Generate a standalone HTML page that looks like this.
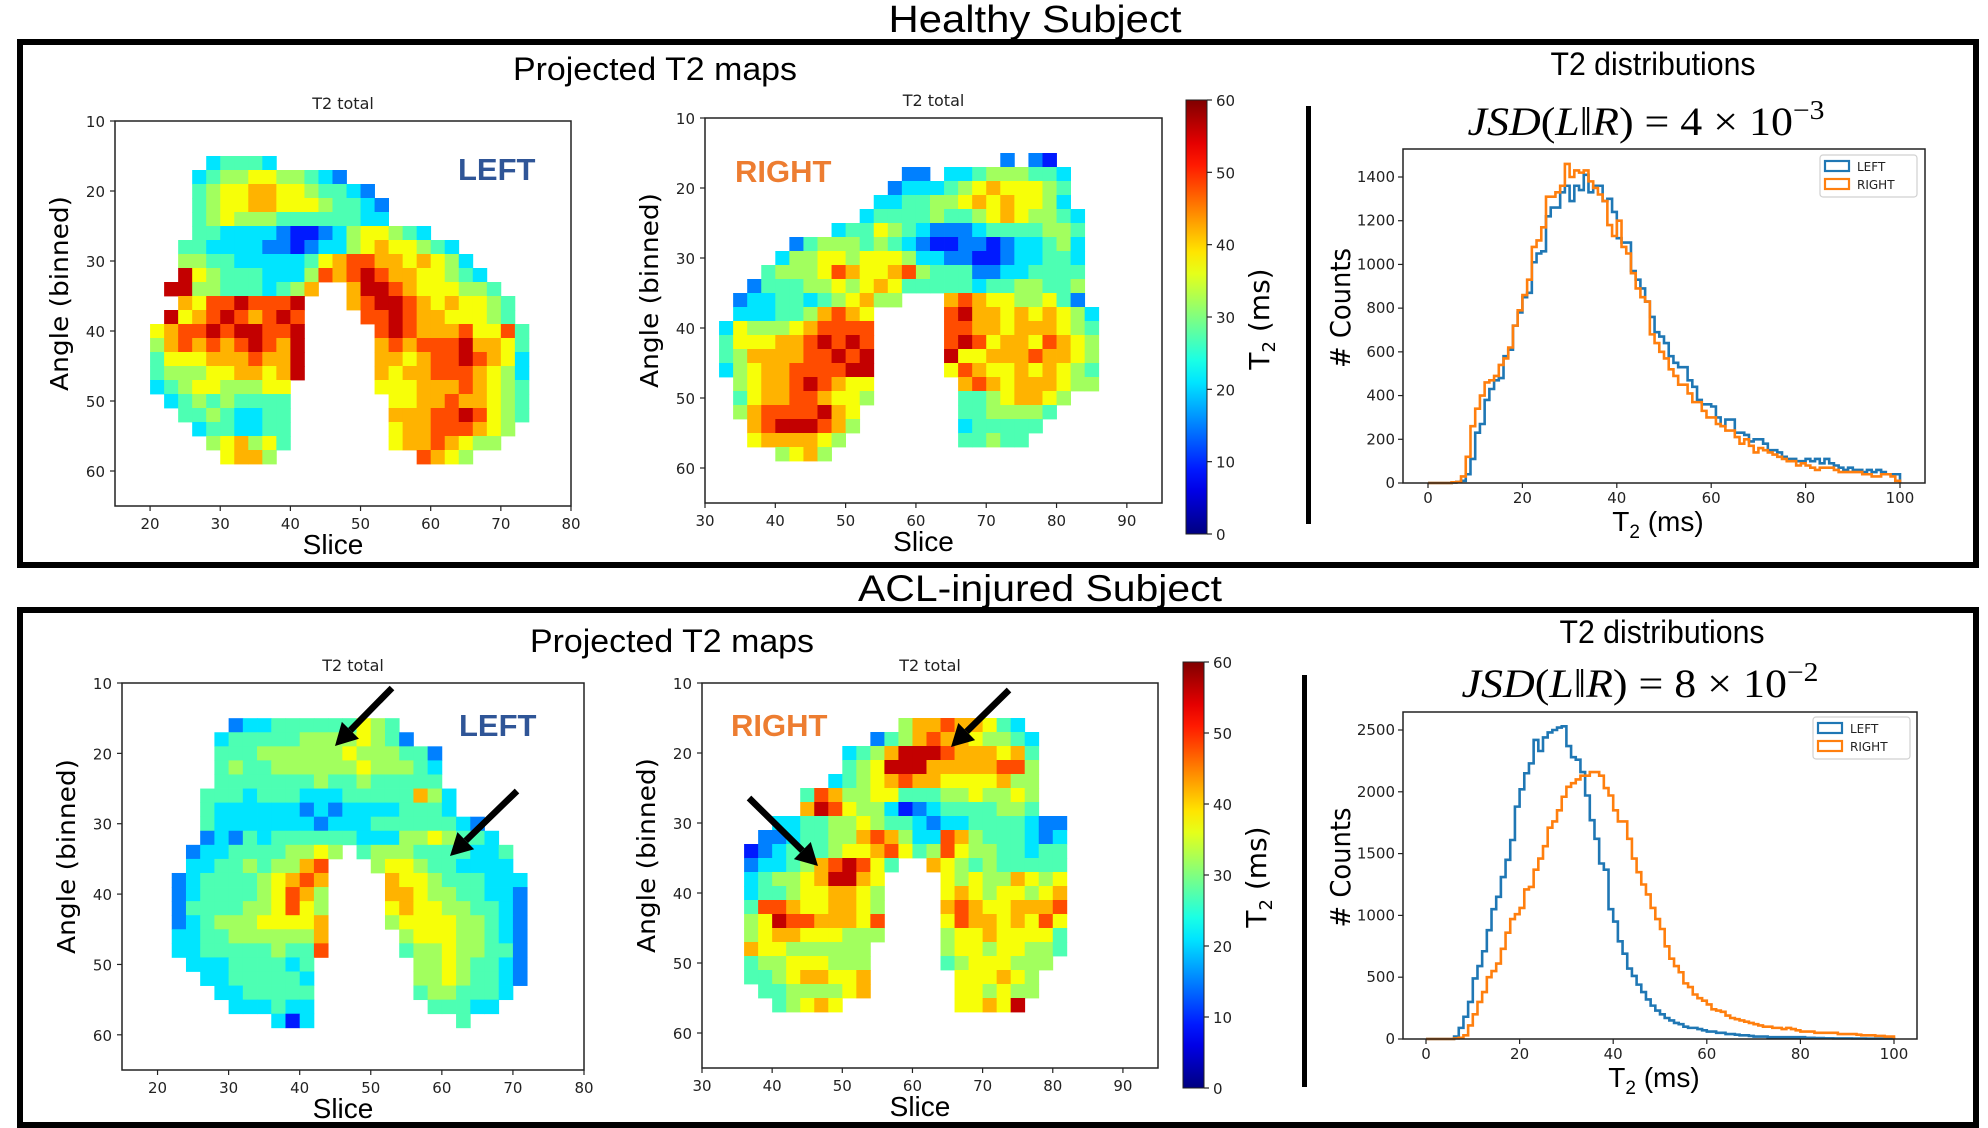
<!DOCTYPE html>
<html>
<head>
<meta charset="utf-8">
<style>
html,body{margin:0;padding:0;background:#fff;}
svg{display:block;}
.tk{font-family:"DejaVu Sans",sans-serif;font-size:15px;fill:#222;}
.cal{font-family:"Liberation Sans",sans-serif;fill:#000;}
</style>
</head>
<body>
<svg id="fig" xmlns="http://www.w3.org/2000/svg" width="1988" height="1128" viewBox="0 0 1988 1128">
<defs>
<linearGradient id="jetGrad" x1="0" y1="1" x2="0" y2="0"></linearGradient>
</defs>
<text class="cal" x="1035" y="32" font-size="38" text-anchor="middle" textLength="293" lengthAdjust="spacingAndGlyphs">Healthy Subject</text>
<rect x="20" y="42" width="1956" height="523" fill="none" stroke="#000" stroke-width="6"/>
<text class="cal" x="1040" y="601" font-size="37" text-anchor="middle" textLength="364" lengthAdjust="spacingAndGlyphs">ACL-injured Subject</text>
<rect x="20" y="610" width="1956" height="515" fill="none" stroke="#000" stroke-width="6"/>

<text class="cal" x="655" y="80" font-size="32" text-anchor="middle" textLength="284" lengthAdjust="spacingAndGlyphs">Projected T2 maps</text>
<text class="cal" x="1653" y="75" font-size="32" text-anchor="middle" textLength="205" lengthAdjust="spacingAndGlyphs">T2 distributions</text>
<text class="cal" x="672" y="652" font-size="32" text-anchor="middle" textLength="284" lengthAdjust="spacingAndGlyphs">Projected T2 maps</text>
<text class="cal" x="1662" y="643" font-size="32" text-anchor="middle" textLength="205" lengthAdjust="spacingAndGlyphs">T2 distributions</text>

<rect x="1306" y="106" width="5" height="418" fill="#000"/>
<rect x="1302" y="675" width="5" height="412" fill="#000"/>

<text x="1646" y="135" font-family="Liberation Serif, serif" font-size="40" text-anchor="middle" textLength="357" lengthAdjust="spacingAndGlyphs"><tspan font-style="italic">JSD</tspan>(<tspan font-style="italic">L</tspan>‖<tspan font-style="italic">R</tspan>) = 4 × 10<tspan dy="-16" font-size="27">−3</tspan></text>
<text x="1640" y="697" font-family="Liberation Serif, serif" font-size="40" text-anchor="middle" textLength="357" lengthAdjust="spacingAndGlyphs"><tspan font-style="italic">JSD</tspan>(<tspan font-style="italic">L</tspan>‖<tspan font-style="italic">R</tspan>) = 8 × 10<tspan dy="-16" font-size="27">−2</tspan></text>

<g id="layer"></g>
</svg>
<script>
// ---------- data ----------
const levelToT2 = [3, 9, 15, 21, 27, 32, 37, 42, 48, 56];
const rowAngles = [15,17,19,21,23,25,27,29,31,33,35,37,39,41,43,45,47,49,51,53,55,57];
const healthyLeftRows = [
"....34443...................",
"...34556655432..............",
"...4566776654432............",
"...45667766654432...........",
"...45655544444433...........",
"...44333321123566543........",
"..44333322123356766543......",
"..554433333467887767653.....",
"..9654443335878987766543....",
".99554443457..79987666554...",
"..768898889...789987676654..",
".9678987898....88987766654..",
"67889899889.....89877786684.",
"57878789879.....78788897764.",
"46667778779.....77678898763.",
"45556677679.....76778887653.",
"3456655566......66677787654.",
".345454444.......6677877654.",
"..44543344.......7778898654.",
"...3443344.......677888765..",
"....567564.......67787655...",
".....6775..........8765....."];
const healthyRightRows = [
"....................2.21....",
".............22.334555443...",
"............2333456766654...",
"...........33445567676653...",
"..........3444454456765543..",
"........344654322234444554..",
".....245554543211221233453..",
"....3556656665332211233443..",
"...45556876678544422334444..",
"..244455656764444434455445..",
".233443456755...7876655642..",
".3334457876.....89776767653.",
"36555678888.....88776777654.",
"46667789898.....89867768765.",
"45777788989.....96677787765.",
"35677888899.....68766767654.",
".5677898766......7876777655.",
".4677887665......44567765...",
".578888976.......4455554....",
"..78999875.......344444.....",
"..6777765........44544......",
"....5675...................."];
const aclLeftRows = [
".....233444444654...........",
"....34444455556542..........",
"....4445555556555442........",
"....4544555555655543........",
"....4444444544544444........",
"...444344433344444753.......",
"...433333323233334443.......",
"...43333333233344444432.....",
"...232434444443335565443....",
"..23344445565.45554444334...",
"..3344545578...5665443333...",
".23444456787....7665444333..",
".23444456875....7765544332..",
".24444556865....6766554432..",
".23455566667....5666655432..",
".33445555557.....566655432..",
".33444445448.....455655442..",
"..333444434.......55654432..",
"...33444443.......55654432..",
"....3344444.......4554443...",
".....333433........44433....",
"........313..........4......"];
const aclRightRows = [
".............577877643......",
"...........245787765543.....",
".........34579998777674.....",
".........45699977777885.....",
"........345678776666755.....",
"......48755664445565565.....",
"......79865531234444554.....",
"....334455654432334444322...",
"...2234455787533875444323...",
"..12344456678645865544344...",
"..23345789864..7654544444...",
"..3455679976....656557656...",
"..3445667765....676566567...",
"..4887667765....787667778...",
"..5698877768....687767686...",
"..5677666555....566766664...",
"..766555555.....566566554...",
"..455666555.....45666555....",
"..445677667......666765.....",
"...44555567......665655.....",
"....45676........66769......",
"............................"];
const mapXTicksLeft = [20,30,40,50,60,70,80];
const mapXTicksRight = [30,40,50,60,70,80,90];
const mapYTicks = [10,20,30,40,50,60];
const cbarTicks = [0,10,20,30,40,50,60];

const histBins = [];
for (let i = 0; i < 100; i++) histBins.push(i);
const healthyLeftCounts = [0,0,0,0,0,2,5,10,40,110,230,270,380,430,470,480,580,610,720,780,850,870,1010,1050,1060,1220,1260,1260,1330,1360,1290,1360,1340,1410,1330,1360,1360,1290,1300,1240,1120,1100,1100,970,930,890,830,760,690,670,640,580,550,530,530,470,440,380,360,360,350,300,260,290,290,230,230,220,190,200,200,180,150,150,140,120,110,110,100,100,110,100,110,90,110,90,80,70,60,70,60,60,50,60,50,60,50,40,40,40];
const healthyRightCounts = [0,0,0,0,0,3,5,30,120,260,340,400,460,470,490,540,570,620,720,790,860,930,1080,1110,1170,1310,1310,1330,1360,1460,1400,1430,1420,1430,1380,1350,1320,1290,1180,1130,1200,1080,1050,960,890,850,830,680,640,600,570,520,490,450,450,410,370,370,330,300,300,270,260,240,240,210,180,200,170,140,160,150,140,130,120,110,100,100,80,90,80,70,60,70,70,70,60,50,50,50,50,50,40,40,30,30,40,40,30,10];
const aclLeftCounts = [0,0,0,0,0,0,20,90,180,300,490,590,710,880,1050,1150,1310,1450,1610,1880,2020,2150,2230,2420,2330,2440,2480,2500,2520,2530,2370,2280,2260,2160,1970,1770,1620,1420,1370,1050,950,790,690,570,510,440,380,320,270,230,200,170,150,130,120,100,90,90,80,70,60,60,50,50,40,40,35,30,30,25,20,20,20,15,15,15,15,15,15,15,15,10,10,8,8,6,6,5,5,5,5,4,4,4,3,3,3,3,3,3];
const aclRightCounts = [0,0,0,0,0,0,5,10,30,110,200,300,380,500,550,610,730,860,970,1010,1060,1210,1230,1370,1460,1560,1710,1760,1850,1960,2040,2070,2100,2130,2130,2160,2160,2130,2030,1970,1850,1760,1760,1620,1460,1350,1250,1170,1060,970,890,750,650,590,540,450,420,360,330,310,280,240,230,220,190,170,160,150,140,130,120,110,100,100,90,90,80,90,80,70,60,60,60,50,50,50,50,50,40,40,40,40,35,30,30,30,25,25,20,20];
const histXTicks = [0,20,40,60,80,100];
const healthyYTicks = [0,200,400,600,800,1000,1200,1400];
const aclYTicks = [0,500,1000,1500,2000,2500];

// ---------- helpers ----------
const NS = "http://www.w3.org/2000/svg";
const layer = document.getElementById('layer');
function mk(tag, attrs, parent) {
  const e = document.createElementNS(NS, tag);
  for (const k in attrs) e.setAttribute(k, attrs[k]);
  (parent || layer).appendChild(e);
  return e;
}
function jet(v) {
  const t = Math.max(0, Math.min(1, v / 60));
  const c = x => Math.round(255 * Math.max(0, Math.min(1, x)));
  return `rgb(${c(1.5 - Math.abs(4*t - 3))},${c(1.5 - Math.abs(4*t - 2))},${c(1.5 - Math.abs(4*t - 1))})`;
}
// colorbar gradient built from the same colormap
(function () {
  const grad = document.getElementById('jetGrad');
  for (let i = 0; i <= 20; i++) {
    const st = document.createElementNS(NS, 'stop');
    st.setAttribute('offset', i / 20);
    st.setAttribute('stop-color', jet(60 * i / 20));
    grad.appendChild(st);
  }
})();
function linScale(d0, d1, r0, r1) { return v => r0 + (v - d0) * (r1 - r0) / (d1 - d0); }

function drawMap(cfg) {
  const g = mk('g', {});
  
  
  const xs = linScale(cfg.sMin, cfg.sMax, cfg.left, cfg.right);
  const ys = linScale(cfg.aMin, cfg.aMax, cfg.top, cfg.bottom);
  const cellsG = mk('g', {}, g);
  
  
  cfg.rows.forEach((row, ri) => {
    const a = rowAngles[ri];
    for (let ci = 0; ci < row.length; ci++) {
      const ch = row[ci];
      if (ch === '.') continue;
      const s = cfg.sStart + 2 * ci;
      const x0 = xs(s), x1 = xs(s + 2), y0 = ys(a), y1 = ys(a + 2);
      const r = mk('rect', {x: x0.toFixed(2), y: y0.toFixed(2), width: (x1 - x0 + 0.4).toFixed(2), height: (y1 - y0 + 0.4).toFixed(2), fill: jet(levelToT2[+ch])}, cellsG);
      
      
    }
  });
  const frame = mk('rect', {x: cfg.left, y: cfg.top, width: cfg.right - cfg.left, height: cfg.bottom - cfg.top, fill: 'none', stroke: '#222', 'stroke-width': 1.5}, g);
  
  
  cfg.xTicks.forEach(t => {
    const x = xs(t);
    const l = mk('line', {x1: x, y1: cfg.bottom, x2: x, y2: cfg.bottom + 5, stroke: '#222', 'stroke-width': 1.2}, g);
    
    
    const tx = mk('text', {x: x, y: cfg.bottom + 23, 'text-anchor': 'middle', class: 'tk'}, g);
    tx.textContent = t;
    
    
  });
  mapYTicks.forEach(t => {
    const y = ys(t);
    const l = mk('line', {x1: cfg.left - 5, y1: y, x2: cfg.left, y2: y, stroke: '#222', 'stroke-width': 1.2}, g);
    
    
    const tx = mk('text', {x: cfg.left - 10, y: y + 6, 'text-anchor': 'end', class: 'tk'}, g);
    tx.textContent = t;
    
    
  });
  const ti = mk('text', {x: (cfg.left + cfg.right) / 2, y: cfg.top - 12, 'text-anchor': 'middle', 'font-family': 'DejaVu Sans, sans-serif', 'font-size': 16, fill: '#222'}, g);
  ti.textContent = 'T2 total';
  
  
  const yl = mk('text', {x: 0, y: 0, transform: `translate(${cfg.left - 47},${(cfg.top + cfg.bottom) / 2 - 20}) rotate(-90)`, 'text-anchor': 'middle', 'font-family': 'DejaVu Sans, sans-serif', 'font-size': 25, fill: '#000', textLength: 195, lengthAdjust: 'spacingAndGlyphs'}, g);
  yl.textContent = 'Angle (binned)';
  
  
  const xl = mk('text', {x: (cfg.left + cfg.right) / 2 - 10, y: cfg.bottom + 48, 'text-anchor': 'middle', class: 'cal', 'font-size': 28}, g);
  xl.textContent = 'Slice';
  
  
  const lab = mk('text', {x: cfg.labX, y: cfg.labY, 'font-family': 'Liberation Sans, sans-serif', 'font-weight': 'bold', 'font-size': 31, fill: cfg.labColor}, g);
  lab.textContent = cfg.label;
  
  
}

function drawColorbar(x, top, bottom, name) {
  const g = mk('g', {});
  
  
  const r = mk('rect', {x: x, y: top, width: 21, height: bottom - top, fill: 'url(#jetGrad)', stroke: '#222', 'stroke-width': 1}, g);
  
  
  const ys = linScale(0, 60, bottom, top);
  cbarTicks.forEach(t => {
    const y = ys(t);
    const l = mk('line', {x1: x + 21, y1: y, x2: x + 26, y2: y, stroke: '#222', 'stroke-width': 1.2}, g);
    
    
    const tx = mk('text', {x: x + 30, y: y + 6, class: 'tk', 'font-size': 17}, g);
    tx.textContent = t;
    
    
  });
  const lb = mk('text', {x: 0, y: 0, transform: `translate(${x + 83},${(top + bottom) / 2 + 2}) rotate(-90)`, 'text-anchor': 'middle', 'font-family': 'DejaVu Sans, sans-serif', 'font-size': 28, fill: '#000'}, g);
  lb.innerHTML = 'T<tspan font-size="18" dy="6">2</tspan><tspan dy="-6"> (ms)</tspan>';
  
  
}

function drawHist(cfg) {
  const g = mk('g', {});
  
  
  const xs = linScale(0, 100, cfg.x0, cfg.x100);
  const ys = linScale(0, cfg.yRef, cfg.y0, cfg.yRefPx);
  const series = [[cfg.left, '#1f77b4', 'left-histogram'], [cfg.right, '#ff7f0e', 'right-histogram']];
  series.forEach(([vals, col, nm]) => {
    let d = `M${xs(histBins[0])},${ys(0)}`;
    histBins.forEach((b, i) => {
      d += ` L${xs(b).toFixed(2)},${ys(vals[i]).toFixed(2)} L${xs(b + 1).toFixed(2)},${ys(vals[i]).toFixed(2)}`;
    });
    d += ` L${xs(100)},${ys(0)}`;
    const p = mk('path', {d: d, fill: 'none', stroke: col, 'stroke-width': 2.6, 'stroke-linejoin': 'miter'}, g);
    
    
  });
  const fr = mk('rect', {x: cfg.left_px, y: cfg.top_px, width: cfg.right_px - cfg.left_px, height: cfg.bottom_px - cfg.top_px, fill: 'none', stroke: '#222', 'stroke-width': 1.5}, g);
  
  
  histXTicks.forEach(t => {
    const x = xs(t);
    const l = mk('line', {x1: x, y1: cfg.bottom_px, x2: x, y2: cfg.bottom_px + 5, stroke: '#222', 'stroke-width': 1.2}, g);
    
    
    const tx = mk('text', {x: x, y: cfg.bottom_px + 20, 'text-anchor': 'middle', class: 'tk', 'font-size': 13}, g);
    tx.textContent = t;
    
    
  });
  cfg.yTicks.forEach(t => {
    const y = ys(t);
    const l = mk('line', {x1: cfg.left_px - 5, y1: y, x2: cfg.left_px, y2: y, stroke: '#222', 'stroke-width': 1.2}, g);
    
    
    const tx = mk('text', {x: cfg.left_px - 8, y: y + 5, 'text-anchor': 'end', class: 'tk', 'font-size': 13}, g);
    tx.textContent = t;
    
    
  });
  const yl = mk('text', {x: 0, y: 0, transform: `translate(${cfg.left_px - 53},${(cfg.top_px + cfg.bottom_px) / 2 - 8}) rotate(-90)`, 'text-anchor': 'middle', 'font-family': 'DejaVu Sans, sans-serif', 'font-size': 28, fill: '#000', textLength: 120, lengthAdjust: 'spacingAndGlyphs'}, g);
  yl.textContent = '# Counts';
  
  
  const xl = mk('text', {x: (cfg.left_px + cfg.right_px) / 2 - 6, y: cfg.bottom_px + 48, 'text-anchor': 'middle', class: 'cal', 'font-size': 28}, g);
  xl.innerHTML = 'T<tspan font-size="19" dy="7">2</tspan><tspan dy="-7"> (ms)</tspan>';
  
  
  const lg = mk('g', {}, g);
  
  
  const lb = mk('rect', {x: cfg.legX, y: cfg.legY, width: 97, height: 42, rx: 3, fill: '#fff', stroke: '#d0d0d0', 'stroke-width': 1.2}, lg);
  
  
  [['LEFT', '#1f77b4', 0], ['RIGHT', '#ff7f0e', 1]].forEach(([t, c, i]) => {
    const sw = mk('rect', {x: cfg.legX + 5, y: cfg.legY + 6 + i * 18, width: 24, height: 10, fill: 'none', stroke: c, 'stroke-width': 2.2}, lg);
    
    
    const tx = mk('text', {x: cfg.legX + 37, y: cfg.legY + 16 + i * 18, 'font-family': 'DejaVu Sans, sans-serif', 'font-size': 12, fill: '#222'}, lg);
    tx.textContent = t;
    
    
  });
}

function arrow(x1, y1, x2, y2, name) {
  const dx = x2 - x1, dy = y2 - y1, L = Math.hypot(dx, dy), ux = dx / L, uy = dy / L;
  const hl = 22, hw = 12;
  const bx = x2 - ux * hl, by = y2 - uy * hl;
  const g = mk('g', {});
  
  
  mk('line', {x1: x1, y1: y1, x2: bx, y2: by, stroke: '#000', 'stroke-width': 6.5}, g);
  mk('polygon', {points: `${x2},${y2} ${bx - uy * hw},${by + ux * hw} ${bx + uy * hw},${by - ux * hw}`, fill: '#000'}, g);
}

// ---------- draw ----------
drawMap({name: 'healthy-left-map', rows: healthyLeftRows, sStart: 20, left: 115, right: 571, top: 121, bottom: 506, sMin: 15, sMax: 80, aMin: 10, aMax: 65, xTicks: mapXTicksLeft, label: 'LEFT', labX: 458, labY: 180, labColor: '#2F5597'});
drawMap({name: 'healthy-right-map', rows: healthyRightRows, sStart: 32, left: 705, right: 1162, top: 118, bottom: 503, sMin: 30, sMax: 95, aMin: 10, aMax: 65, xTicks: mapXTicksRight, label: 'RIGHT', labX: 735, labY: 182, labColor: '#ED7D31'});
drawMap({name: 'acl-left-map', rows: aclLeftRows, sStart: 20, left: 122, right: 584, top: 683, bottom: 1070, sMin: 15, sMax: 80, aMin: 10, aMax: 65, xTicks: mapXTicksLeft, label: 'LEFT', labX: 459, labY: 736, labColor: '#2F5597'});
drawMap({name: 'acl-right-map', rows: aclRightRows, sStart: 32, left: 702, right: 1158, top: 683, bottom: 1068, sMin: 30, sMax: 95, aMin: 10, aMax: 65, xTicks: mapXTicksRight, label: 'RIGHT', labX: 731, labY: 736, labColor: '#ED7D31'});
drawColorbar(1186, 100, 534, 'healthy-colorbar');
drawColorbar(1183, 662, 1088, 'acl-colorbar');
drawHist({name: 'healthy-histogram', left: healthyLeftCounts, right: healthyRightCounts, x0: 1428, x100: 1900, y0: 483, yRef: 1400, yRefPx: 177, left_px: 1403, right_px: 1925, top_px: 149, bottom_px: 483, yTicks: healthyYTicks, legX: 1820, legY: 155});
drawHist({name: 'acl-histogram', left: aclLeftCounts, right: aclRightCounts, x0: 1426, x100: 1894, y0: 1039, yRef: 2500, yRefPx: 730, left_px: 1403, right_px: 1917, top_px: 712, bottom_px: 1039, yTicks: aclYTicks, legX: 1813, legY: 717});
arrow(392, 688, 335, 746, 'acl-left-arrow-top');
arrow(517, 791, 450, 856, 'acl-left-arrow-side');
arrow(1009, 690, 951, 747, 'acl-right-arrow-top');
arrow(749, 798, 818, 866, 'acl-right-arrow-side');
</script>
</body>
</html>
